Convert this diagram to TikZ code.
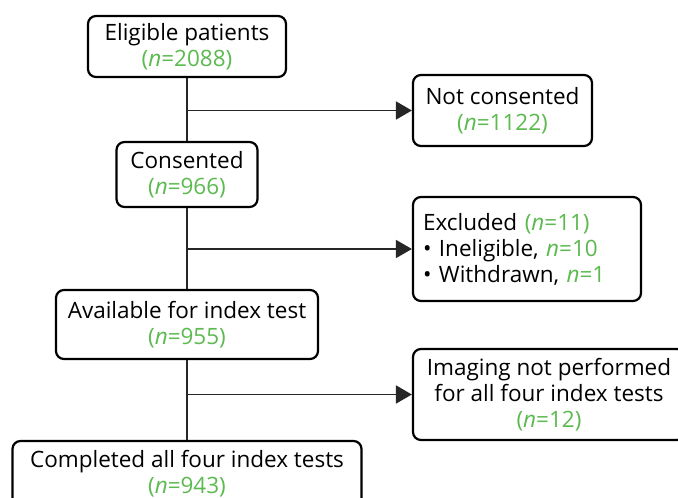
\documentclass[tikz,border=0pt]{standalone}
\usepackage{fontspec}
\setmainfont{Open Sans}
\usetikzlibrary{arrows.meta}
\definecolor{ngreen}{RGB}{92,186,80}
\newcommand{\nn}[1]{\textcolor{ngreen}{(\textit{n}=#1)}}
\begin{document}
\begin{tikzpicture}[x=1pt,y=-1pt,
  flowbox/.style={draw=black, line width=2.2pt, rounded corners=8pt, fill=white,
    align=center, inner sep=0pt, font=\fontsize{22.5}{26}\selectfont},
  link/.style={line width=1.8pt, draw=black!85},
  arrowlink/.style={link, -{Triangle[length=16pt,width=18pt]}}]
  \useasboundingbox (0,0) rectangle (678,498);
  \clip (0,0) rectangle (678,498);

  % main column
  \node[flowbox, minimum width=198pt, minimum height=61pt] (elig) at (187,46.5)
    {Eligible patients\\\nn{2088}};
  \node[flowbox, minimum width=141pt, minimum height=65pt] (cons) at (187,174.5)
    {Consented\\\nn{966}};
  \node[flowbox, minimum width=262pt, minimum height=69pt] (avail) at (187,324.5)
    {Available for index test\\\nn{955}};
  \node[flowbox, minimum width=349pt, minimum height=66pt] (compl) at (187,474)
    {Completed all four index tests\\\nn{943}};

  % side boxes
  \node[flowbox, minimum width=179pt, minimum height=71pt] (notc) at (502.5,110.5)
    {Not consented\\\nn{1122}};
  \node[flowbox, minimum width=228pt, minimum height=104pt, align=left,
    text width=208pt] (excl) at (527,249)
    {Excluded \nn{11}\\\textbullet\ Ineligible, \textcolor{ngreen}{\textit{n}=10}\\
     \textbullet\ Withdrawn, \textcolor{ngreen}{\textit{n}=1}};
  \node[flowbox, minimum width=272pt, minimum height=91pt] (imag) at (549,394.5)
    {Imaging not performed\\for all four index tests\\\nn{12}};

  % trunk
  \draw[link] (elig.south) -- (cons.north);
  \draw[link] (cons.south) -- (avail.north);
  \draw[link] (avail.south) -- (compl.north);

  % branches
  \coordinate (b1) at (elig.south |- notc.west);
  \coordinate (b2) at (elig.south |- excl.west);
  \coordinate (b3) at (elig.south |- imag.west);
  \draw[arrowlink] (b1) -- (notc.west);
  \draw[arrowlink] (b2) -- (excl.west);
  \draw[arrowlink] (b3) -- (imag.west);
\end{tikzpicture}
\end{document}
